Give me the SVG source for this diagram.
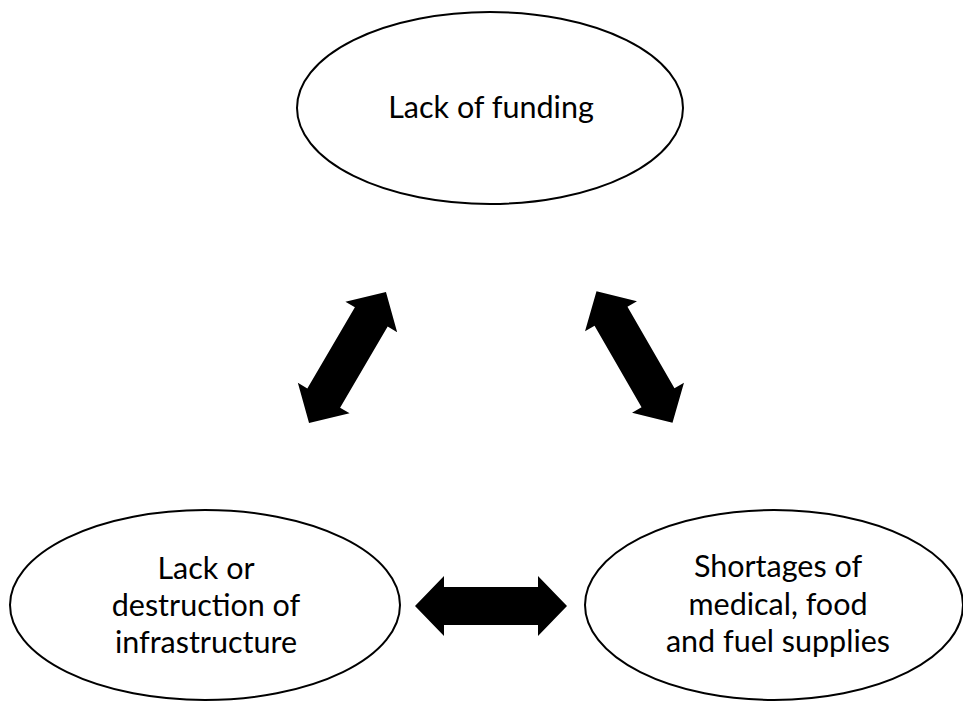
<svg xmlns="http://www.w3.org/2000/svg" width="963" height="701" viewBox="0 0 963 701">
<style>
.node ellipse{fill:#fff;stroke:#000;stroke-width:2}
.node text{font-family:Lato,"Open Sans","Liberation Sans",sans-serif;font-size:30.5px;fill:#000;text-anchor:middle}
.arrow{fill:#000}
</style>
<defs>
<polygon id="dblarrow" points="-76,0 -47,-30 -47,-19 47,-19 47,-30 76,0 47,30 47,19 -47,19 -47,30"/>
</defs>
<rect width="963" height="701" fill="#fff"/>
<g id="connectors" class="arrow">
<use href="#dblarrow" transform="translate(347.5,357.5) rotate(-59.6)"/>
<use href="#dblarrow" transform="translate(634.5,357) rotate(60)"/>
<use href="#dblarrow" transform="translate(491,606)"/>
</g>
<g id="node-funding" class="node">
<ellipse cx="490" cy="108" rx="193" ry="96"/>
<text x="491" y="118">Lack of funding</text>
</g>
<g id="node-infrastructure" class="node">
<ellipse cx="205" cy="605" rx="195" ry="95"/>
<text x="206" y="579">Lack or</text>
<text x="206" y="616">destruction of</text>
<text x="206" y="653">infrastructure</text>
</g>
<g id="node-shortages" class="node">
<ellipse cx="774" cy="605" rx="189" ry="95"/>
<text x="778" y="577">Shortages of</text>
<text x="778" y="614.5">medical, food</text>
<text x="778" y="652">and fuel supplies</text>
</g>
</svg>
